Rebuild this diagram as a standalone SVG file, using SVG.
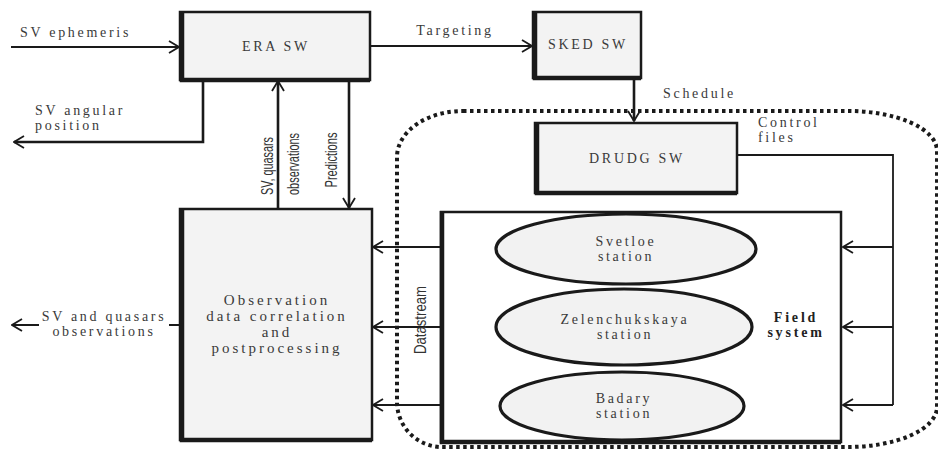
<svg xmlns="http://www.w3.org/2000/svg" width="938" height="450" viewBox="0 0 938 450">
<style>
.box{fill:#f3f3f3;stroke:#1a1a1a;stroke-width:2.5}
.edge{stroke:#1a1a1a;stroke-width:4.5;fill:none}
.ell{fill:#f2f2f2;stroke:#1a1a1a;stroke-width:3.2}
.t{font-family:"Liberation Serif","Times New Roman",serif;font-size:14px;fill:#3a3a3a;letter-spacing:2.7px}
.to{font-family:"Liberation Serif","Times New Roman",serif;font-size:15px;fill:#3a3a3a;letter-spacing:3px}
.tb{font-family:"Liberation Serif","Times New Roman",serif;font-size:14px;font-weight:bold;fill:#222;letter-spacing:2.8px}
.tn{font-family:"Liberation Sans","Arial",sans-serif;font-size:16px;fill:#333}
.c{fill:none;stroke:#1a1a1a;stroke-width:1.8}
.c2{fill:none;stroke:#1a1a1a;stroke-width:2.6}
</style>
<defs>
<marker id="a" viewBox="0 0 12 14" refX="11" refY="7" markerWidth="12" markerHeight="14" markerUnits="userSpaceOnUse" orient="auto">
<path d="M1,1 L11,7 L1,13" fill="none" stroke="#1a1a1a" stroke-width="1.8"/>
</marker>
</defs>
<path d="M463,111 H848 A89,40 0 0 1 937,151 V407 A89,40 0 0 1 848,447 H442 A45,45 0 0 1 397,402 V157 A66,46 0 0 1 463,111 Z" fill="none" stroke="#1a1a1a" stroke-width="4" stroke-dasharray="3.5,3.5"/>
<g id="era">
<rect class="box" x="180" y="12" width="190" height="68"/>
<path class="edge" d="M182,11 V80 H370"/>
<text class="t" x="276" y="51" text-anchor="middle">ERA SW</text>
</g>
<g id="sked">
<rect class="box" x="533" y="12" width="108" height="66"/>
<path class="edge" d="M535,11 V78 H641"/>
<text class="t" x="588" y="49" text-anchor="middle">SKED SW</text>
</g>
<g id="drudg">
<rect class="box" x="535" y="123" width="202" height="70"/>
<path class="edge" d="M537,122 V193 H737"/>
<text class="t" x="637" y="163" text-anchor="middle">DRUDG SW</text>
</g>
<g id="obs">
<rect class="box" x="180" y="209" width="192" height="231"/>
<path class="edge" d="M182,208 V440 H372"/>
<text class="to" x="277" y="305" text-anchor="middle">Observation</text>
<text class="to" x="277" y="321" text-anchor="middle">data correlation</text>
<text class="to" x="277" y="337" text-anchor="middle">and</text>
<text class="to" x="277" y="353" text-anchor="middle">postprocessing</text>
</g>
<g id="field">
<rect x="441" y="212" width="400" height="230" fill="#fff" stroke="#1a1a1a" stroke-width="2.5"/>
<path class="edge" d="M442,211 V442 H841"/>
<text class="tb" x="796" y="322" text-anchor="middle">Field</text>
<text class="tb" x="796" y="337" text-anchor="middle">system</text>
</g>
<g id="svetloe">
<ellipse class="ell" cx="626" cy="249" rx="130" ry="35"/>
<text class="t" x="626" y="246" text-anchor="middle">Svetloe</text>
<text class="t" x="626" y="261" text-anchor="middle">station</text>
</g>
<g id="zelen">
<ellipse class="ell" cx="624" cy="327" rx="128" ry="38"/>
<text class="t" x="625" y="324" text-anchor="middle">Zelenchukskaya</text>
<text class="t" x="625" y="339" text-anchor="middle">station</text>
</g>
<g id="badary">
<ellipse class="ell" cx="622" cy="406" rx="122" ry="34"/>
<text class="t" x="624" y="403" text-anchor="middle">Badary</text>
<text class="t" x="624" y="418" text-anchor="middle">station</text>
</g>
<g id="connectors">
<line class="c" x1="11" y1="47" x2="179" y2="47" marker-end="url(#a)"/>
<text class="t" x="20" y="37">SV ephemeris</text>
<path class="c2" d="M203,80 V142 H14" marker-end="url(#a)"/>
<text class="t" x="35" y="115">SV angular</text>
<text class="t" x="35" y="130">position</text>
<line class="c" x1="370" y1="46" x2="532" y2="46" marker-end="url(#a)"/>
<text class="t" x="455" y="35" text-anchor="middle">Targeting</text>
<line class="c2" x1="634" y1="78" x2="634" y2="121" marker-end="url(#a)"/>
<text class="t" x="663" y="98">Schedule</text>
<path class="c" d="M737,155 H893 V405"/>
<text class="t" x="758" y="127">Control</text>
<text class="t" x="758" y="142">files</text>
<line class="c" x1="893" y1="247" x2="843" y2="247" marker-end="url(#a)"/>
<line class="c" x1="893" y1="327" x2="843" y2="327" marker-end="url(#a)"/>
<line class="c" x1="893" y1="405" x2="843" y2="405" marker-end="url(#a)"/>
<line class="c" x1="440" y1="247" x2="373" y2="247" marker-end="url(#a)"/>
<line class="c" x1="440" y1="327" x2="373" y2="327" marker-end="url(#a)"/>
<line class="c" x1="440" y1="405" x2="373" y2="405" marker-end="url(#a)"/>
<text class="tn" transform="translate(426,320) rotate(-90)" text-anchor="middle" textLength="68" lengthAdjust="spacingAndGlyphs">Datastream</text>
<line class="c2" x1="278" y1="209" x2="278" y2="81" marker-end="url(#a)"/>
<line class="c2" x1="349" y1="80" x2="349" y2="208" marker-end="url(#a)"/>
<text class="tn" transform="translate(273,166) rotate(-90)" text-anchor="middle" textLength="58" lengthAdjust="spacingAndGlyphs">SV, quasars</text>
<text class="tn" transform="translate(299,164) rotate(-90)" text-anchor="middle" textLength="62" lengthAdjust="spacingAndGlyphs">observations</text>
<text class="tn" transform="translate(337,160) rotate(-90)" text-anchor="middle" textLength="55" lengthAdjust="spacingAndGlyphs">Predictions</text>
<line class="c" x1="180" y1="325" x2="12" y2="325" marker-end="url(#a)"/>
<rect x="39" y="311" width="130" height="26" fill="#fff"/>
<text class="t" x="104" y="321" text-anchor="middle">SV and quasars</text>
<text class="t" x="104" y="336" text-anchor="middle">observations</text>
</g>
</svg>
